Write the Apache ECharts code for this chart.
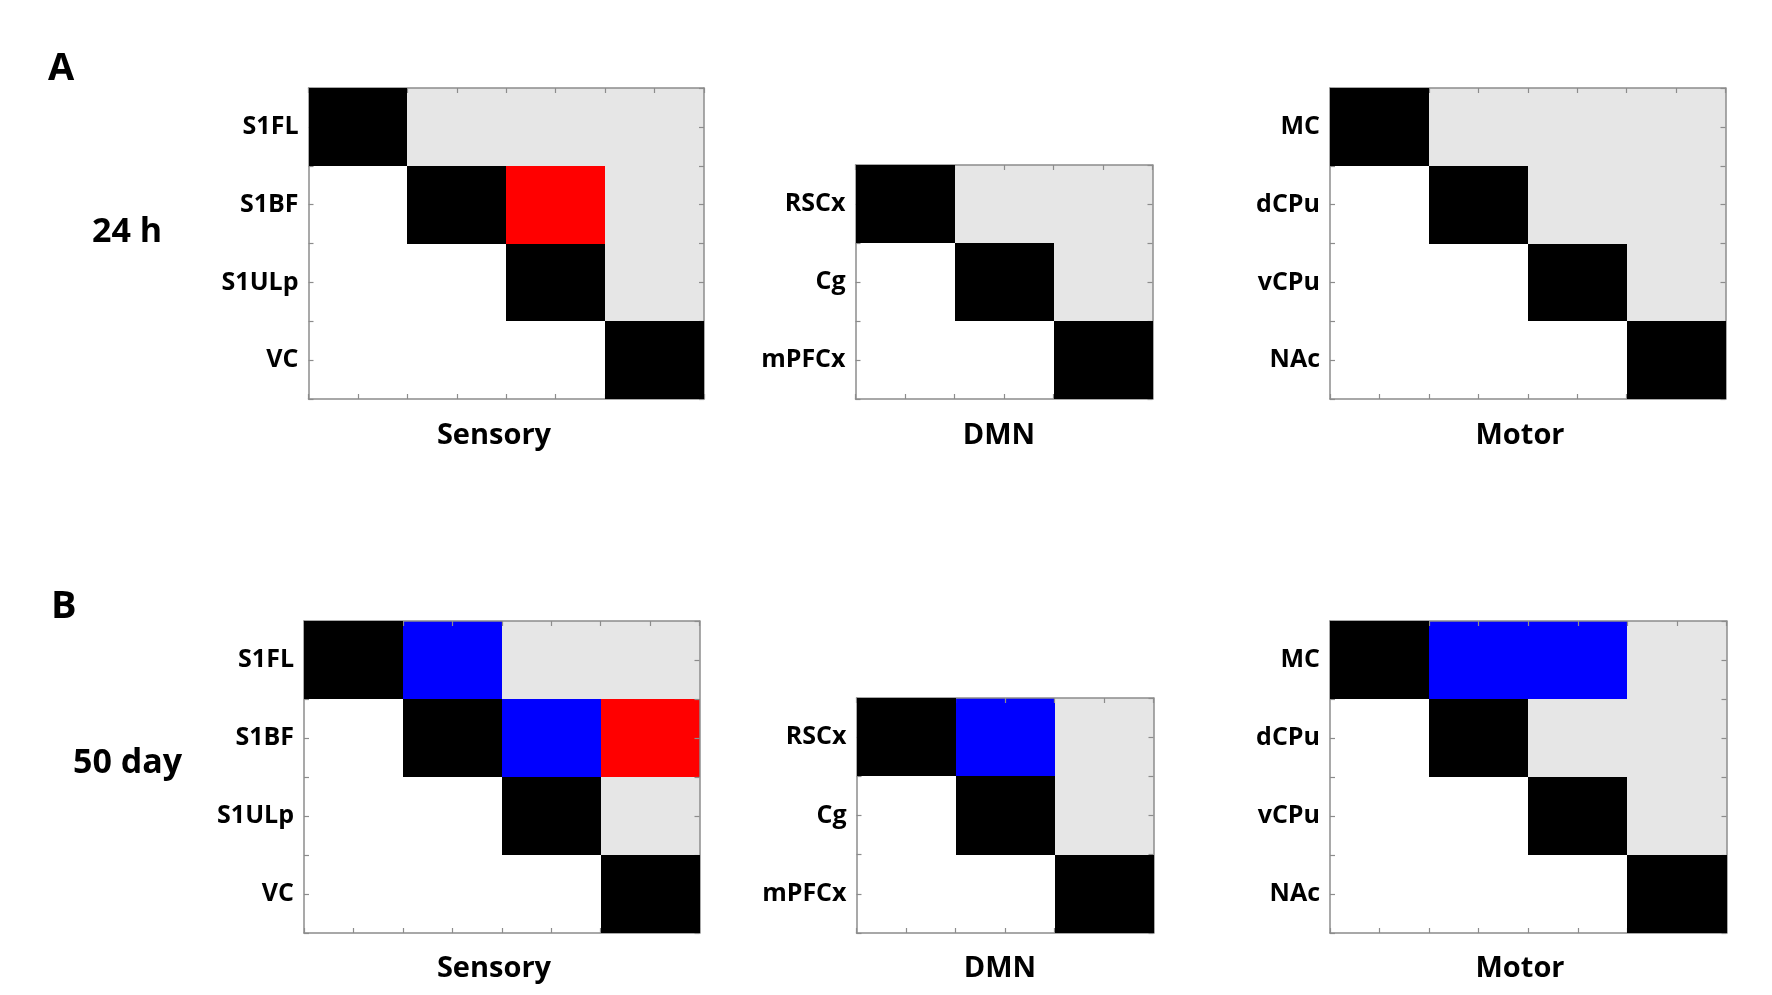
<!DOCTYPE html>
<html>
<head>
<meta charset="utf-8">
<script src="https://cdn.jsdelivr.net/npm/echarts@6/dist/echarts.min.js"></script>
<style>
  html, body { margin: 0; padding: 0; background: #fff; }
  #chart { width: 1772px; height: 995px; }
</style>
</head>
<body>
<div id="chart"></div>
<script>
// region names (row / column order of each matrix)
var sensoryNames = ['S1FL', 'S1BF', 'S1ULp', 'VC'];
var dmnNames = ['RSCx', 'Cg', 'mPFCx'];
var motorNames = ['MC', 'dCPu', 'vCPu', 'NAc'];

// cell codes: 0 = lower triangle, 1 = diagonal, 2 = n.s., 3 = increase, 4 = decrease
var sensory24h = [
    [1, 2, 2, 2],
    [0, 1, 3, 2],
    [0, 0, 1, 2],
    [0, 0, 0, 1]
];
var dmn24h = [
    [1, 2, 2],
    [0, 1, 2],
    [0, 0, 1]
];
var motor24h = [
    [1, 2, 2, 2],
    [0, 1, 2, 2],
    [0, 0, 1, 2],
    [0, 0, 0, 1]
];
var sensory50d = [
    [1, 4, 2, 2],
    [0, 1, 4, 3],
    [0, 0, 1, 2],
    [0, 0, 0, 1]
];
var dmn50d = [
    [1, 4, 2],
    [0, 1, 2],
    [0, 0, 1]
];
var motor50d = [
    [1, 4, 4, 2],
    [0, 1, 2, 2],
    [0, 0, 1, 2],
    [0, 0, 0, 1]
];

var codeColors = ['#ffffff', '#000000', '#e6e6e6', '#ff0000', '#0000ff'];
var axisGray = '#8c8c8c';
var fontFamily = '"Open Sans", Lato, sans-serif';

// panel layout in pixels
var panels = [
    { names: sensoryNames, cells: sensory24h, title: 'Sensory', left: 308.5, top: 88, width: 395.5, height: 311, titleX: 494, titleY: 436 },
    { names: dmnNames, cells: dmn24h, title: 'DMN', left: 855.5, top: 165, width: 297, height: 234, titleX: 999, titleY: 436 },
    { names: motorNames, cells: motor24h, title: 'Motor', left: 1330, top: 88, width: 395.5, height: 311, titleX: 1520, titleY: 436 },
    { names: sensoryNames, cells: sensory50d, title: 'Sensory', left: 304, top: 621, width: 395.5, height: 312, titleX: 494, titleY: 969 },
    { names: dmnNames, cells: dmn50d, title: 'DMN', left: 856.5, top: 698, width: 297, height: 235, titleX: 1000, titleY: 969 },
    { names: motorNames, cells: motor50d, title: 'Motor', left: 1330, top: 621, width: 396.5, height: 312, titleX: 1520, titleY: 969 }
];

var grids = [], xAxes = [], yAxes = [], series = [], graphics = [];

function boxAxis(n, position, gridIndex, inverse, labelNames) {
    return {
        type: 'value',
        gridIndex: gridIndex,
        position: position,
        z: 2,
        min: 0,
        max: n,
        interval: 0.5,
        inverse: inverse,
        splitLine: { show: false },
        axisLine: { show: true, onZero: false, lineStyle: { color: axisGray, width: 1.5 } },
        axisTick: { show: true, inside: true, length: 5, lineStyle: { color: axisGray, width: 1.2 } },
        axisLabel: {
            show: !!labelNames,
            margin: 10,
            color: '#000',
            fontFamily: fontFamily,
            fontWeight: 'bold',
            fontSize: 25,
            formatter: function (v) {
                var i = v - 0.5;
                return (labelNames && Number.isInteger(i) && labelNames[i]) ? labelNames[i] : '';
            }
        }
    };
}

function renderCell(params, api) {
    // snap both corners to whole pixels so neighbouring cells leave no seam
    var a = api.coord([api.value(0), api.value(1)]);
    var b = api.coord([api.value(0) + 1, api.value(1) + 1]);
    var x0 = Math.round(a[0]), y0 = Math.round(a[1]);
    var x1 = Math.round(b[0]), y1 = Math.round(b[1]);
    return {
        type: 'rect',
        shape: { x: x0, y: y0, width: x1 - x0, height: y1 - y0 },
        style: { fill: codeColors[api.value(2)] }
    };
}

panels.forEach(function (p, gi) {
    var n = p.names.length;
    grids.push({ left: p.left, top: p.top, width: p.width, height: p.height });

    xAxes.push(boxAxis(n, 'bottom', gi, false, null));
    xAxes.push(boxAxis(n, 'top', gi, false, null));
    yAxes.push(boxAxis(n, 'left', gi, true, p.names));
    yAxes.push(boxAxis(n, 'right', gi, true, null));

    var offDiag = [], diag = [];
    p.cells.forEach(function (row, r) {
        row.forEach(function (code, c) {
            if (code === 1) diag.push([c, r, code]);
            else if (code !== 0) offDiag.push([c, r, code]);
        });
    });

    // coloured cells sit under the box ticks, diagonal cells cover them
    series.push({
        type: 'custom', z: 1,
        xAxisIndex: gi * 2, yAxisIndex: gi * 2,
        clip: true, data: offDiag, renderItem: renderCell
    });
    series.push({
        type: 'custom', z: 3,
        xAxisIndex: gi * 2, yAxisIndex: gi * 2,
        clip: true, data: diag, renderItem: renderCell
    });

    graphics.push({
        type: 'text',
        x: p.titleX,
        y: p.titleY,
        style: {
            text: p.title,
            fill: '#000',
            font: 'bold 29px ' + fontFamily,
            textAlign: 'center',
            textVerticalAlign: 'middle'
        }
    });
});

// panel letters and row labels
function label(text, x, y, size, align) {
    graphics.push({
        type: 'text',
        x: x,
        y: y,
        style: {
            text: text,
            fill: '#000',
            font: 'bold ' + size + 'px ' + fontFamily,
            textAlign: align,
            textVerticalAlign: 'middle'
        }
    });
}
label('A', 48, 69, 38, 'left');
label('B', 51, 607, 38, 'left');
label('24 h', 127, 232, 34, 'center');
label('50 day', 127.5, 763, 34, 'center');

var chart = echarts.init(document.getElementById('chart'));
chart.setOption({
    animation: false,
    backgroundColor: '#fff',
    grid: grids,
    xAxis: xAxes,
    yAxis: yAxes,
    series: series,
    graphic: graphics
});
</script>
</body>
</html>
